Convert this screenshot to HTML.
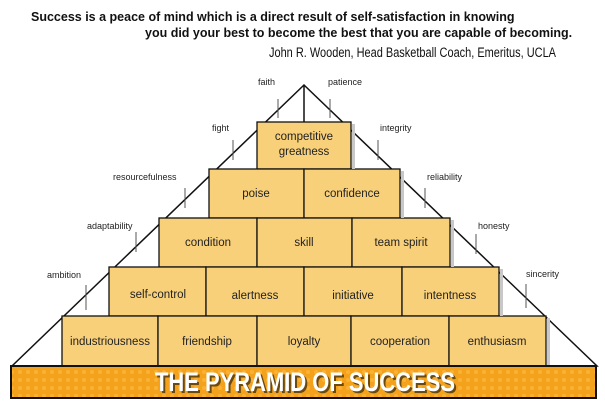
<!DOCTYPE html>
<html><head><meta charset="utf-8"><style>
html,body{margin:0;padding:0;background:#fff;width:605px;height:416px;overflow:hidden}
svg{display:block}
.q{font-family:"Liberation Sans",sans-serif;font-weight:bold;font-size:12.5px;fill:#111}
.a{font-family:"Liberation Sans",sans-serif;font-size:13.5px;fill:#111}
.l{font-family:"Liberation Sans",sans-serif;font-size:9px;fill:#222}
.b{font-family:"Liberation Sans",sans-serif;font-size:11.5px;fill:#222;text-anchor:middle}
.t{font-family:"Liberation Sans",sans-serif;font-weight:bold;font-size:27px;fill:#fff}
</style></head><body>
<svg width="605" height="416" viewBox="0 0 605 416" xmlns="http://www.w3.org/2000/svg">
<defs>
<pattern id="dots" width="8" height="8" patternUnits="userSpaceOnUse"><rect width="8" height="8" fill="#f4a21c"/><circle cx="4" cy="4" r="2" fill="#f8b235"/></pattern>
</defs>
<text class="q" x="31" y="21">Success is a peace of mind which is a direct result of self-satisfaction in knowing</text>
<text class="q" x="145" y="37">you did your best to become the best that you are capable of becoming.</text>
<text class="a" x="269" y="57" textLength="287" lengthAdjust="spacingAndGlyphs">John R. Wooden, Head Basketball Coach, Emeritus, UCLA</text>

<polygon points="304,85 12,366 597,366" fill="#fff" stroke="#111" stroke-width="1.5"/>
<line x1="304" y1="85" x2="304" y2="122" stroke="#111" stroke-width="1.5"/>

<g stroke="#555" stroke-width="1">
<line x1="278" y1="99" x2="278" y2="118"/><line x1="330" y1="99" x2="330" y2="118"/>
<line x1="233" y1="140" x2="233" y2="160"/><line x1="378" y1="140" x2="378" y2="160"/>
<line x1="185" y1="188" x2="185" y2="208"/><line x1="425" y1="188" x2="425" y2="208"/>
<line x1="136" y1="232" x2="136" y2="252"/><line x1="476" y1="234" x2="476" y2="254"/>
<line x1="86" y1="285" x2="86" y2="310"/><line x1="526" y1="284" x2="526" y2="308"/>
</g>
<text class="l" x="258" y="85">faith</text><text class="l" x="328" y="85">patience</text>
<text class="l" x="212" y="131">fight</text><text class="l" x="380" y="131">integrity</text>
<text class="l" x="113" y="180">resourcefulness</text><text class="l" x="427" y="180">reliability</text>
<text class="l" x="87" y="229">adaptability</text><text class="l" x="478" y="229">honesty</text>
<text class="l" x="47" y="278">ambition</text><text class="l" x="526" y="277">sincerity</text>

<g fill="#f9d07a" stroke="#111" stroke-width="1.3">
<rect x="257" y="122" width="94" height="47"/>
<rect x="209" y="169" width="95" height="49"/><rect x="304" y="169" width="96" height="49"/>
<rect x="159" y="218" width="98" height="49"/><rect x="257" y="218" width="95" height="49"/><rect x="352" y="218" width="98" height="49"/>
<rect x="109" y="267" width="97" height="49"/><rect x="206" y="267" width="98" height="49"/><rect x="304" y="267" width="98" height="49"/><rect x="402" y="267" width="97" height="49"/>
<rect x="62" y="316" width="96" height="50"/><rect x="158" y="316" width="99" height="50"/><rect x="257" y="316" width="94" height="50"/><rect x="351" y="316" width="98" height="50"/><rect x="449" y="316" width="97" height="50"/>
</g>
<g fill="#c8c8c8">
<rect x="352" y="124" width="3" height="45"/><rect x="401" y="171" width="3" height="47"/><rect x="451" y="220" width="3" height="47"/><rect x="500" y="269" width="3" height="47"/><rect x="547" y="318" width="3" height="48"/>
</g>

<text class="b" x="304" y="140">competitive</text><text class="b" x="304" y="155">greatness</text>
<text class="b" x="256" y="197">poise</text><text class="b" x="352" y="197">confidence</text>
<text class="b" x="208" y="246">condition</text><text class="b" x="304" y="246">skill</text><text class="b" x="401" y="246">team spirit</text>
<text class="b" x="158" y="298">self-control</text><text class="b" x="255" y="299">alertness</text><text class="b" x="353" y="299">initiative</text><text class="b" x="450" y="299">intentness</text>
<text class="b" x="110" y="345">industriousness</text><text class="b" x="207" y="345">friendship</text><text class="b" x="304" y="345">loyalty</text><text class="b" x="400" y="345">cooperation</text><text class="b" x="497" y="345">enthusiasm</text>

<rect x="11" y="366" width="585" height="32" fill="url(#dots)" stroke="#111" stroke-width="2"/>
<text class="t" x="157" y="393" style="fill:#6b4a10" textLength="300" lengthAdjust="spacingAndGlyphs">THE PYRAMID OF SUCCESS</text>
<text class="t" x="155" y="391" textLength="300" lengthAdjust="spacingAndGlyphs">THE PYRAMID OF SUCCESS</text>
</svg>
</body></html>
